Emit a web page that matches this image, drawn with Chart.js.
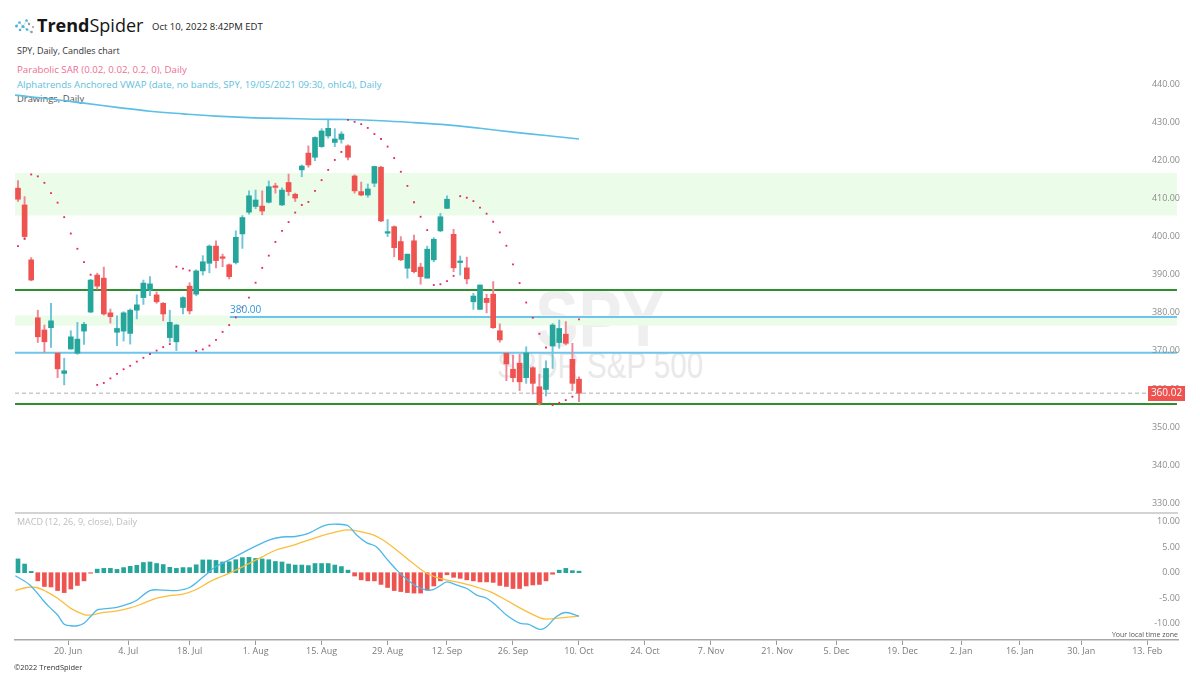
<!DOCTYPE html>
<html>
<head>
<meta charset="utf-8">
<script src="https://cdn.jsdelivr.net/npm/chart.js@4.4.1/dist/chart.umd.min.js"></script>
<style>
html,body{margin:0;padding:0;background:#fff;}
body{width:1200px;height:675px;position:relative;overflow:hidden;font-family:"Open Sans",Arial,sans-serif;}
.t{position:absolute;white-space:nowrap;line-height:1;}
.wm{position:absolute;left:0;width:1200px;text-align:center;font-family:"Liberation Sans",Arial,sans-serif;line-height:1;}
#pricebox{position:absolute;left:0;top:60px;width:1200px;height:453px;}
#macdbox{position:absolute;left:0;top:513px;width:1200px;height:150px;}
</style>
</head>
<body>
<div class="wm" style="top:279px;font-size:80px;font-weight:bold;color:#efefef;transform:scaleX(0.81);">SPY</div>
<div class="wm" style="top:348px;font-size:36px;color:#e9e9e9;transform:scaleX(0.82);">SPDR S&amp;P 500</div>

<svg class="t" style="left:14px;top:17px" width="22" height="18" viewBox="0 0 22 18">
  <g stroke="#9fd6e6" stroke-width="0.7" fill="none">
    <path d="M2.5 9 L5.5 5.5 L9 9.5 L12.5 3.5 L15 7 M9 9.5 L6 13 M9 9.5 L13 12.5 L17.5 15"/>
  </g>
  <g fill="#4fb3d4">
    <circle cx="2.5" cy="9" r="1.5"/><circle cx="5.5" cy="5.5" r="1.3"/><circle cx="9" cy="9.5" r="1.6"/>
    <circle cx="12.5" cy="3.5" r="1.3"/><circle cx="6" cy="13" r="1.3"/><circle cx="13" cy="12.5" r="1.3"/>
  </g>
  <g fill="#9a9a9a"><circle cx="15" cy="7" r="1.2"/><circle cx="17.5" cy="15" r="1.3"/><circle cx="19" cy="10" r="1"/></g>
</svg>
<div class="t" style="left:37px;top:16px;font-size:18px;color:#161616;"><span style="font-weight:700">Trend</span><span style="font-weight:400">Spider</span></div>
<div class="t" style="left:152px;top:22px;font-size:9.5px;color:#222;">Oct 10, 2022 8:42PM EDT</div>
<div class="t" style="left:17px;top:46px;font-size:9px;color:#333;">SPY, Daily, Candles chart</div>
<div class="t" style="left:17px;top:65px;font-size:9.7px;color:#ec6f93;">Parabolic SAR (0.02, 0.02, 0.2, 0), Daily</div>
<div class="t" style="left:17px;top:80px;font-size:9.6px;color:#5ec0dd;">Alphatrends Anchored VWAP (date, no bands, SPY, 19/05/2021 09:30, ohlc4), Daily</div>
<div class="t" style="left:17px;top:94px;font-size:9.4px;color:#555;">Drawings, Daily</div>

<div id="pricebox"><canvas id="price" width="1200" height="453"></canvas></div>
<div class="t" style="left:230px;top:304px;font-size:10px;color:#2f95da;">380.00</div>

<div style="position:absolute;left:15px;top:512px;width:1163px;height:2px;background:#d3d3d3;"></div>
<div id="macdbox"><canvas id="macd" width="1200" height="150"></canvas></div>
<div class="t" style="left:17px;top:517px;font-size:9px;color:#bdbdbd;">MACD (12, 26, 9, close), Daily</div>
<div class="t" style="right:22px;top:631px;font-size:7px;color:#555;">Your local time zone</div>
<div class="t" style="left:14px;top:664px;font-size:7.5px;color:#333;">©2022 TrendSpider</div>

<script>
// ---------- data (bar index 0 = 8 Jun 2022 ... 85 = 10 Oct 2022) ----------
const opens = [413.8,409.4,395.0,379.8,376.6,377.2,370.5,365.2,371.6,370.5,
  376.3,381.3,391.0,390.2,381.1,376.0,376.3,375.7,381.8,385.1,
  387.1,385.8,383.6,374.6,373.5,382.5,388.1,386.0,392.1,394.1,
  398.6,395.8,393.7,394.3,401.8,407.5,409.0,409.1,410.1,414.4,
  409.4,415.3,412.2,418.6,423.0,421.9,424.7,427.5,425.8,426.6,
  424.9,417.0,412.9,412.0,415.1,419.3,402.0,403.7,399.8,392.8,
  400.0,393.1,390.2,395.0,402.6,408.5,401.7,394.3,392.9,384.0,
  382.0,384.9,386.0,376.4,370.5,366.3,367.9,364.1,366.7,361.7,
  361.0,372.4,373.3,375.5,368.9,363.7];
const highs = [415.8,411.6,395.6,381.8,377.9,383.6,370.6,369.2,376.4,378.6,
  378.6,389.9,391.5,393.1,382.1,380.3,381.4,382.1,385.8,389.7,
  390.6,386.6,383.8,381.8,378.1,385.3,389.0,392.4,396.1,398.9,
  400.0,396.5,393.9,402.6,406.6,413.1,413.3,413.1,415.7,415.1,
  413.9,417.5,412.5,419.9,424.9,427.3,429.4,431.7,429.4,428.6,
  425.2,417.3,415.4,414.9,419.6,419.5,405.6,403.9,401.1,396.5,
  401.5,394.1,398.6,400.8,407.2,411.8,403.0,396.0,395.7,386.2,
  388.4,386.0,389.3,378.2,370.5,370.0,370.2,372.2,367.0,365.0,
  368.5,378.3,379.2,378.8,373.1,364.3];
const lows = [410.3,400.5,389.5,373.3,370.6,372.0,364.1,362.2,371.6,370.2,
  372.8,381.1,387.3,380.5,378.4,372.5,373.7,372.9,379.5,383.3,
  385.6,383.6,379.0,373.4,371.2,380.8,380.8,385.6,391.0,391.6,
  392.9,393.2,390.0,393.9,398.0,407.0,408.4,406.8,409.9,412.5,
  409.2,411.9,410.3,416.8,419.3,421.0,424.5,426.9,424.7,425.6,
  421.2,412.5,411.8,411.4,414.2,405.0,401.1,395.8,394.8,390.2,
  391.6,388.6,390.2,394.5,402.4,408.4,391.9,391.0,388.7,382.0,
  382.0,381.1,377.0,373.4,363.3,363.0,360.7,362.6,359.8,356.9,
  359.3,366.5,371.8,372.7,360.7,357.8];
const closes = [410.9,401.1,389.7,374.8,373.5,379.0,366.4,365.9,374.8,374.2,
  378.1,389.7,388.1,380.8,380.1,377.0,381.1,381.8,383.2,388.9,
  388.7,384.0,380.8,378.6,377.9,385.1,381.6,392.1,394.5,398.6,
  394.8,395.4,390.6,400.9,406.1,411.8,410.7,407.8,414.2,414.0,
  413.3,412.9,411.2,419.6,419.9,427.1,428.8,429.5,426.7,428.0,
  421.9,413.1,412.0,413.6,419.5,405.2,402.4,398.2,395.0,396.5,
  391.9,390.6,397.8,400.4,406.3,410.9,392.9,394.7,390.0,385.5,
  388.4,383.8,377.2,374.0,367.7,364.1,363.0,370.6,362.6,357.4,
  366.5,377.9,377.0,373.1,362.6,360.02];
const sar = [398.6,400.5,417.4,416.9,415.2,412.5,410.0,406.2,401.9,397.9,
  394.4,391.1,362.2,362.7,363.9,365.1,366.3,367.2,368.3,369.3,
  370.3,371.2,372.1,372.9,393.2,392.7,392.2,371.1,371.5,372.5,
  374.0,376.1,377.9,379.9,382.5,385.1,389.0,392.9,396.1,399.7,
  402.6,404.9,407.4,409.4,410.2,413.1,415.9,418.6,421.2,423.3,
  431.7,431.2,430.6,429.6,428.0,426.7,424.7,421.7,418.1,414.4,
  410.1,406.3,402.8,388.4,388.6,389.4,390.8,411.7,411.3,410.4,
  408.7,407.1,405.0,402.2,398.7,393.8,388.9,383.8,379.8,375.6,
  372.0,356.9,357.5,358.2,359.1,379.4];
const vwapIdx = [-0.45,5,10,15,20,25,30,35,40,45,50,55,60,65,70,75,80,85];
const vwapVal = [438.2,437.2,436.1,435.0,434.0,433.3,432.7,432.3,432.1,431.9,431.8,431.5,431.0,430.4,429.5,428.5,427.6,426.7];
const macdHist = [2.7,1.7,0.26,-1.6,-2.7,-2.8,-3.5,-3.9,-3.2,-2.5,
  -1.6,-0.1,0.7,0.85,0.85,0.65,1.0,1.25,1.45,2.0,
  2.1,1.8,1.6,1.05,0.85,1.0,1.0,1.55,2.5,2.5,
  2.4,2.1,2.15,2.55,2.95,3.0,2.8,2.7,2.55,2.2,
  2.1,1.7,1.5,1.5,1.4,1.8,1.8,1.8,1.5,1.2,
  0.5,-0.65,-1.4,-1.6,-1.6,-2.3,-2.9,-3.5,-3.7,-3.9,
  -4.0,-4.0,-3.4,-2.6,-1.6,-0.4,-0.9,-1.1,-1.4,-1.6,
  -1.8,-1.8,-1.9,-2.5,-2.7,-3.1,-3.1,-2.6,-2.4,-2.3,
  -1.6,-0.3,0.5,0.85,0.4,0.3];
const macdIdx = [-0.4,1.8,3.8,4.8,6,7,8,9,10,11,12,13,15,17,18,20,22,24,26,28,30,32,34,36,38,40,42,44,46.5,48.5,50,51.3,52.8,54.3,55.8,57.4,58.9,60.4,61.9,62.9,63.9,65,66.4,68,69.5,71,72.5,74,76,77.3,79,80,81.6,83,85];
const macdVal = [-0.6,-2.4,-5.4,-6.8,-8.3,-10.1,-10.4,-10.4,-9.9,-8.6,-7.3,-7.1,-6.8,-6.0,-5.4,-3.5,-3.4,-3.5,-2.9,-0.9,1.2,2.5,3.9,5.2,6.4,7.0,7.1,7.7,9.3,9.5,9.2,7.4,5.9,5.1,2.8,0.5,-1.3,-2.7,-3.4,-3.3,-2.6,-1.8,-2.4,-3.1,-4.4,-5.0,-6.5,-8.3,-9.9,-10.1,-11.1,-10.7,-8.6,-7.8,-8.5];
const signalIdx = [-0.4,1.3,2.8,4.3,6,8,10,11,13,15,17,19,21,23,25,27,29,31,33,35,37,39,41.5,42.5,44.7,47.3,49.8,51.3,53.8,55.3,57.4,59.9,61.9,63.9,66.4,68.9,71.5,74,76.6,79,80,82.6,85];
const signalVal = [-3.5,-2.9,-2.9,-3.7,-5.0,-7.0,-8.2,-8.3,-7.8,-7.5,-6.9,-6.0,-5.0,-4.5,-4.2,-3.3,-1.8,-0.65,0.5,1.8,3.1,4.4,5.3,5.75,6.7,7.7,8.4,8.2,7.4,6.4,4.4,1.8,-0.1,-1.1,-1.8,-2.6,-3.7,-5.4,-7.3,-8.8,-9.1,-8.8,-8.5];
// drawings
const hLineGreen = [387.1, 357.2];
const hLineBlue = [370.6];
const hLineBlue380 = 380.0, hLineBlue380Start = 32.1;
const zones = [[406.6, 417.8], [377.8, 380.4]];
// axes
const priceTicks = [330,340,350,360,370,380,390,400,410,420,430,440];
const macdTicks = [-10,-5,0,5,10];
const tickIdx = [7.6,16.7,26,36,46,56,65,75,85,95,105,115,124,134,142.9,151.8,161.1,171.1];
const tickLabels = ['20. Jun','4. Jul','18. Jul','1. Aug','15. Aug','29. Aug','12. Sep','26. Sep','10. Oct','24. Oct','7. Nov','21. Nov','5. Dec','19. Dec','2. Jan','16. Jan','30. Jan','13. Feb'];

// ---------- rendering ----------
const X_MIN = -0.4545, X_MAX = 175.76, X_END = 175.6;
const UP = '#26a69a', DN = '#ef5350', UPW = '#6fc6d8', DNW = '#f08799';
const idx = opens.map((_, i) => i);
const isUp = i => closes[i] >= opens[i];
const font = {family: '"Open Sans", Arial, sans-serif', size: 9};

function hline(y, x0, x1, color, w, dash, order) {
  return {type: 'line', data: [{x: x0, y: y}, {x: x1, y: y}], borderColor: color, borderWidth: w,
    borderDash: dash || [], pointRadius: 0, fill: false, order: order};
}

const lastPricePlugin = {
  id: 'lastPrice',
  afterDraw(chart) {
    const last = closes[closes.length - 1];
    const y = Math.round(chart.scales.y.getPixelForValue(last));
    const ctx = chart.ctx;
    ctx.save();
    ctx.fillStyle = '#ef5350';
    ctx.fillRect(1148, y - 7, 37, 15);
    ctx.fillStyle = '#ffffff';
    ctx.font = '10px "Open Sans", Arial, sans-serif';
    ctx.textAlign = 'center';
    ctx.textBaseline = 'middle';
    ctx.fillText(last.toFixed(2), 1166.5, y + 0.5);
    ctx.restore();
  }
};

const priceDatasets = [];
zones.forEach(z => priceDatasets.push({type: 'line', data: [{x: X_MIN, y: z[1]}, {x: X_END, y: z[1]}],
  borderWidth: 0, pointRadius: 0, backgroundColor: '#ebfce9', fill: {value: z[0]}, order: 20}));
hLineGreen.forEach(v => priceDatasets.push(hline(v, X_MIN, X_END, '#2f8f2f', 2, null, 10)));
hLineBlue.forEach(v => priceDatasets.push(hline(v, X_MIN, X_END, '#6cc6ec', 2, null, 10)));
priceDatasets.push(hline(hLineBlue380, hLineBlue380Start, X_END, '#6cc6ec', 2, null, 10));
priceDatasets.push(hline(closes[closes.length - 1], X_MIN, 171.2, '#b0b0b0', 1, [4, 3], 11));
priceDatasets.push({type: 'line', data: vwapIdx.map((x, k) => ({x: x, y: vwapVal[k]})), borderColor: '#5bbfe6',
  borderWidth: 1.6, pointRadius: 0, tension: 0.4, fill: false, order: 9});
priceDatasets.push({type: 'bar', data: idx.map(i => ({x: i, y: [lows[i], highs[i]]})),
  backgroundColor: c => isUp(c.dataIndex) ? UPW : DNW, barThickness: 1.3, grouped: false, order: 4});
priceDatasets.push({type: 'bar', data: idx.map(i => ({x: i, y: [opens[i], closes[i]]})),
  backgroundColor: c => isUp(c.dataIndex) ? UP : DN, barThickness: 5, minBarLength: 1, grouped: false, order: 3});
priceDatasets.push({type: 'line', data: idx.map(i => ({x: i, y: sar[i]})), showLine: false, pointStyle: 'rect',
  pointRadius: 1.3, pointBackgroundColor: '#e5285f', pointBorderWidth: 0, order: 1});

const priceChart = new Chart(document.getElementById('price'), {
  type: 'bar',
  data: {datasets: priceDatasets},
  options: {
    responsive: false, animation: false, events: [],
    layout: {padding: {left: 15, right: 22, top: 0, bottom: 0}, autoPadding: false},
    plugins: {legend: {display: false}, tooltip: {enabled: false}},
    scales: {
      x: {type: 'linear', min: X_MIN, max: X_MAX, offset: false, display: false, grid: {offset: false}},
      y: {type: 'linear', position: 'right', min: 328.59, max: 447.42, beginAtZero: false,
        grid: {display: false}, border: {display: false},
        afterBuildTicks: a => { a.ticks = priceTicks.map(v => ({value: v})); },
        afterFit: a => { a.width = 0; a.paddingTop = 0; a.paddingBottom = 0; },
        ticks: {z: 1, mirror: true, padding: 2, labelOffset: -4.3, color: '#8c8c8c', font: font,
          callback: v => Number(v).toFixed(2)}}
    }
  },
  plugins: [lastPricePlugin]
});

const macdChart = new Chart(document.getElementById('macd'), {
  type: 'bar',
  data: {datasets: [
    {type: 'line', data: macdIdx.map((x, k) => ({x: x, y: macdVal[k]})), borderColor: '#4db8e8', borderWidth: 1.3,
      pointRadius: 0, tension: 0.35, fill: false, order: 1},
    {type: 'line', data: signalIdx.map((x, k) => ({x: x, y: signalVal[k]})), borderColor: '#fbbd3c', borderWidth: 1.3,
      pointRadius: 0, tension: 0.35, fill: false, order: 2},
    {type: 'bar', data: idx.map(i => ({x: i, y: macdHist[i]})), backgroundColor: c => macdHist[c.dataIndex] >= 0 ? UP : DN,
      barThickness: 4, grouped: false, order: 5}
  ]},
  options: {
    responsive: false, animation: false, events: [],
    layout: {padding: {left: 15, right: 22, top: 0, bottom: 0}, autoPadding: false},
    plugins: {legend: {display: false}, tooltip: {enabled: false}},
    scales: {
      x: {type: 'linear', min: X_MIN, max: X_MAX, offset: false,
        grid: {display: true, drawOnChartArea: false, drawTicks: true, tickLength: 5, color: '#9a9a9a', offset: false},
        border: {display: true, color: '#a8a8a8', width: 1.5},
        afterBuildTicks: a => { a.ticks = tickIdx.map(v => ({value: v})); },
        afterFit: a => { a.height = 23; a.paddingLeft = 0; a.paddingRight = 0; },
        ticks: {autoSkip: false, maxRotation: 0, padding: 1, color: '#7a7a7a', font: font,
          callback: (v, i) => tickLabels[i]}},
      y: {type: 'linear', position: 'right', min: -13.196, max: 11.706, beginAtZero: false,
        grid: {display: false}, border: {display: false},
        afterBuildTicks: a => { a.ticks = macdTicks.map(v => ({value: v})); },
        afterFit: a => { a.width = 0; a.paddingTop = 0; a.paddingBottom = 0; },
        ticks: {z: 1, mirror: true, padding: 2, color: '#8c8c8c', font: font,
          callback: v => Number(v).toFixed(2)}}
    }
  }
});

// map the scales so that bar 0 sits at page x=18 (6.6 px per bar) and the value scales match the reference
function calibrate(chart, vRef, pxRef, pxPerUnit) {
  const a = chart.chartArea;
  const xs = chart.options.scales.x, ys = chart.options.scales.y;
  xs.min = -(18 - a.left) / 6.6;
  xs.max = (a.right - 18) / 6.6;
  ys.max = vRef + (pxRef - a.top) / pxPerUnit;
  ys.min = vRef - (a.bottom - pxRef) / pxPerUnit;
  chart.update('none');
}
calibrate(priceChart, 440, 28.3, 3.812);
calibrate(macdChart, 0, 59.7, 5.1);
</script>
</body>
</html>
